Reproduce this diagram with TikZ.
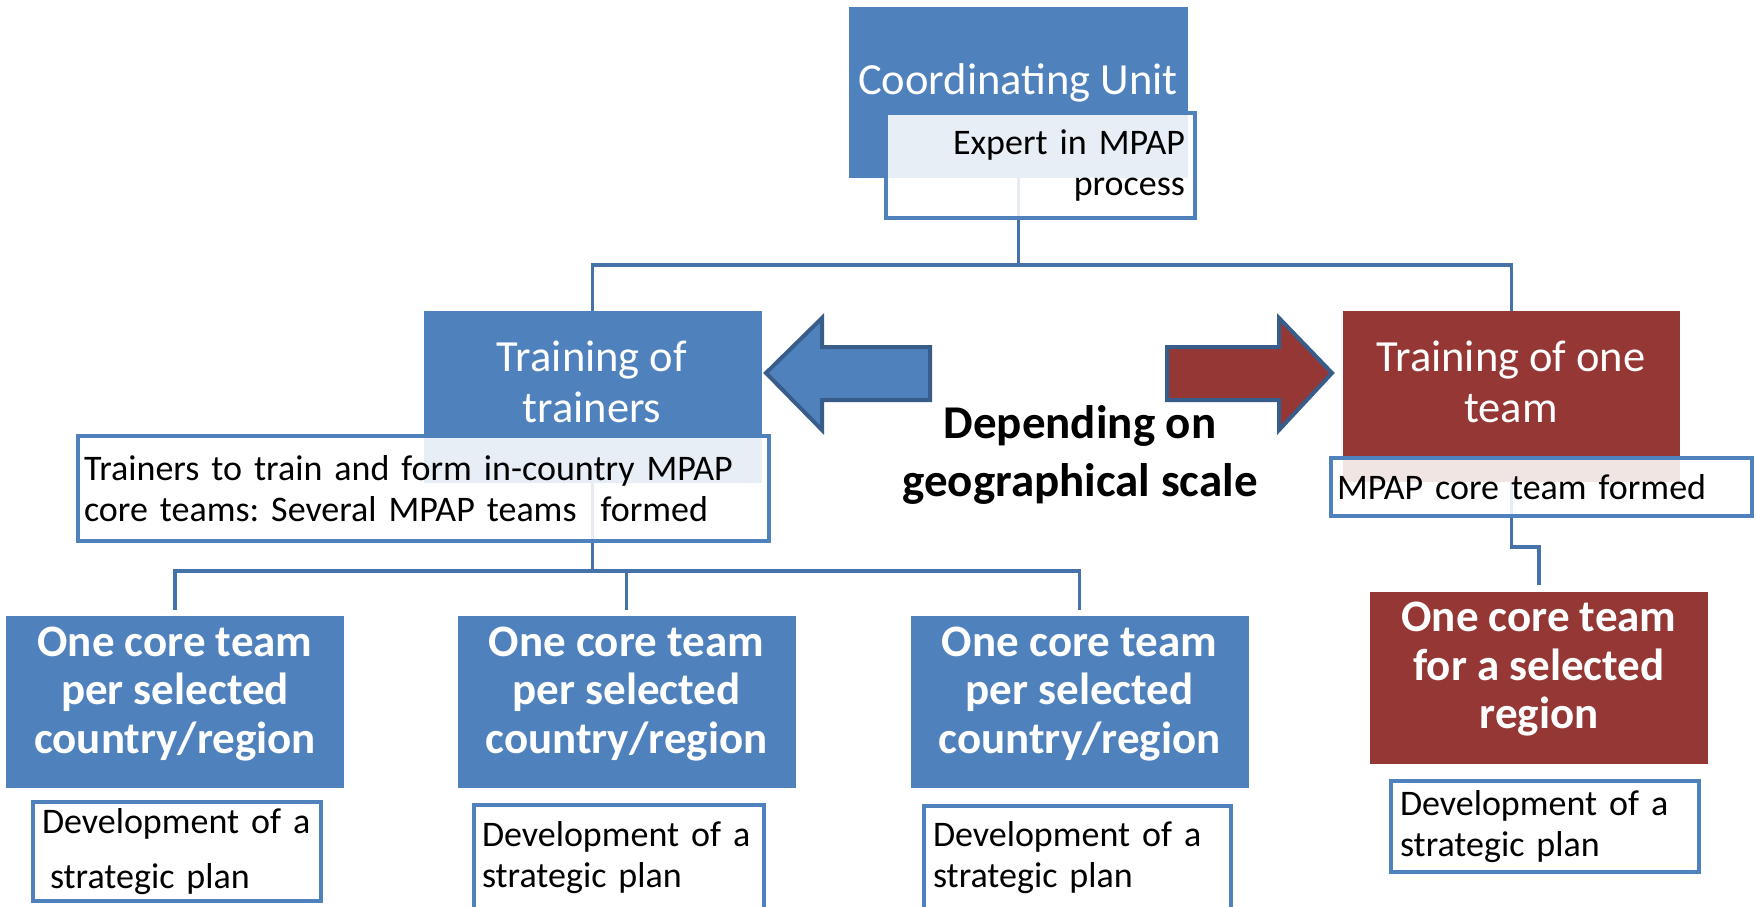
\documentclass[tikz,border=0pt]{standalone}
\usepackage{fontspec}
\setmainfont{Carlito}
\usetikzlibrary{calc}

\definecolor{unitblue}{RGB}{79,129,189}
\definecolor{teamred}{RGB}{149,55,53}
\definecolor{edgeblue}{RGB}{56,93,138}
\definecolor{linkblue}{RGB}{70,114,170}

\pgfdeclarelayer{background}
\pgfsetlayers{background,main}

\tikzset{
  box/.style={rectangle, fill=#1, minimum width=338pt, minimum height=172pt,
    inner sep=0pt, outer sep=0pt},
  ttl/.style={text=white, align=center, font=\fontsize{44.5}{51}\selectfont},
  % extra depth under the last line lifts the text a little
  team/.style={box=#1, text=white, align=center,
    font=\fontsize{45}{48.5}\selectfont\bfseries,
    execute at end node={\rule[-24pt]{0pt}{24pt}}},
  note/.style={rectangle, draw=unitblue, line width=4pt, fill=white,
    fill opacity=0.87, text opacity=1, text=black, anchor=north west,
    font=\fontsize{36}{41}\selectfont\frenchspacing, inner ysep=0pt, outer sep=0pt},
  link/.style={draw=linkblue, line width=3.5pt},
  bigarrow/.style={draw=edgeblue, line width=4pt, line join=miter},
}

\begin{document}
\begin{tikzpicture}[x=1pt,y=-1pt]
\useasboundingbox (0,0) rectangle (1756,907);
\clip (0,0) rectangle (1756,907);

% unit at the top
\node[box=unitblue, minimum width=339pt, minimum height=171pt] (cu) at (1018.5,92.5) {};
\node[ttl, anchor=base] (cutext) at (1018,95) {Coordinating Unit};
\node[note, text width=289pt, align=right, inner xsep=10pt, minimum height=105pt] (expert) at (886,113) {Expert in MPAP\\process};

% the two ways of training
\node[box=unitblue] (tot) at (592.5,397) {};
\node[ttl] (tottext) at (592,382) {Training of\\trainers};
\node[box=teamred, minimum width=337pt, minimum height=171pt] (oneteam) at (1511.5,396.5) {};
\node[ttl] (oneteamtext) at (1511,382) {Training of one\\team};

\node[note, text width=678pt, align=left, inner xsep=6.5pt, minimum height=105pt] (trainnote) at (77.5,436)
  {Trainers to train and form in-country MPAP\\core teams: Several MPAP teams\ \ formed};
\node[note, text width=409pt, align=left, inner xsep=6pt, minimum height=58pt] (teamnote) at (1331,458) {MPAP core team formed};

% block arrows and the text between them
\draw[bigarrow, fill=unitblue] (766,373) -- (822,318) -- (822,347) -- (930,347) -- (930,400) -- (822,400) -- (822,430) -- cycle;
\draw[bigarrow, fill=teamred] (1167,347) -- (1279,347) -- (1279,318) -- (1332,373) -- (1279,430) -- (1279,400) -- (1167,400) -- cycle;
\node[font=\fontsize{47}{58}\selectfont\bfseries, align=center] (scale) at (1080,455) {Depending on\\geographical scale};

% core teams
\node[team=unitblue] (team1) at (175,702) {One core team\\per selected\\country/region};
\node[team=unitblue] (team2) at (626.5,702) {One core team\\per selected\\country/region};
\node[team=unitblue] (team3) at (1079.5,702) {One core team\\per selected\\country/region};
\node[team=teamred] (region) at (1539,677.5) {One core team\\for a selected\\region};

\node[note, text width=270pt, align=left, inner xsep=9pt, minimum height=99pt] (plan1) at (33,802)
  {Development of a\\[14pt]\hspace*{8pt}strategic plan};
\node[note, text width=274pt, align=left, inner xsep=8pt, minimum height=106pt] (plan2) at (474,805) {Development of a\\strategic plan};
\node[note, text width=289pt, align=left, inner xsep=9pt, minimum height=104pt] (plan3) at (924,806) {Development of a\\strategic plan};
\node[note, text width=290pt, align=left, inner xsep=9pt, minimum height=91pt] (plan4) at (1391,781) {Development of a\\strategic plan};

% connectors behind the boxes
\coordinate (topbar) at (0,265);
\coordinate (midbar) at (0,571);
\coordinate (kink) at (0,547);
\begin{pgfonlayer}{background}
  \draw[link] (cu.south) -- (cu.south |- topbar);
  \draw[link] (tot.north) -- (tot.north |- topbar) -- (oneteam.north |- topbar) -- (oneteam.north);
  \draw[link] (tot.south) -- (tot.south |- midbar);
  \draw[link, shorten <=6pt, shorten >=6pt] (team1.north) -- (team1.north |- midbar) -- (team3.north |- midbar) -- (team3.north);
  \draw[link, shorten <=6pt] (team2.north) -- (team2.north |- midbar);
  \draw[link, shorten >=7pt] (oneteam.south) -- (oneteam.south |- kink) -- (region.north |- kink) -- (region.north);
\end{pgfonlayer}
\end{tikzpicture}
\end{document}
